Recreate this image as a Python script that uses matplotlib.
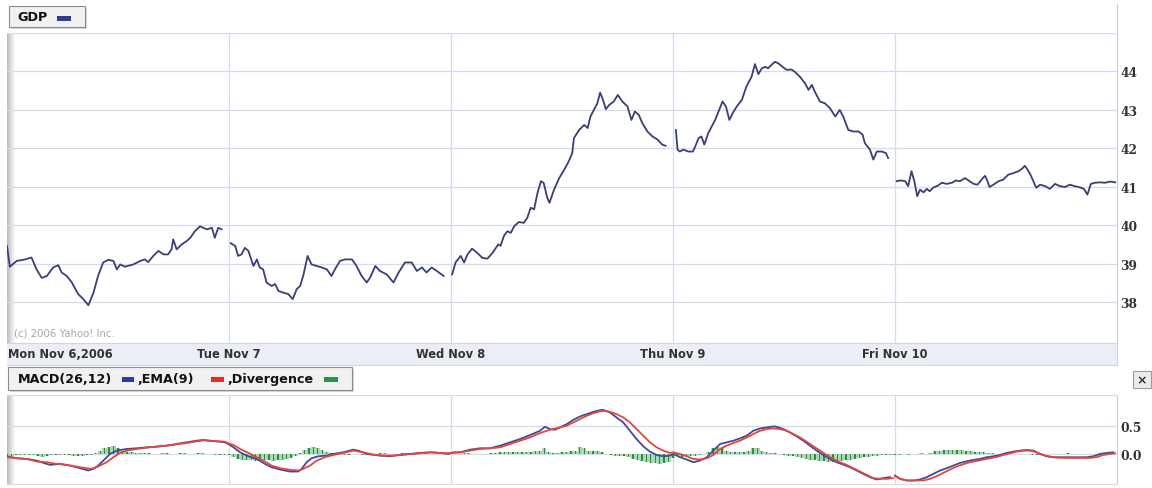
import numpy as np
import matplotlib
matplotlib.use('Agg')
import matplotlib.pyplot as plt
from matplotlib.patches import Rectangle, FancyBboxPatch
from matplotlib.lines import Line2D

# ---- price (GDP), minutes after the open for each trading day ----
day_labels = ['Mon Nov 6,2006', 'Tue Nov 7', 'Wed Nov 8', 'Thu Nov 9', 'Fri Nov 10']
price_ticks = [38, 39, 40, 41, 42, 43, 44, 45]
price_ticklabels = ['38', '39', '40', '41', '42', '43', '44', '']

mon_min = [0, 5, 17, 32, 43, 52, 61, 70, 81, 90, 96, 105, 114, 125, 134, 143, 152, 160, 169, 178,
           187, 193, 199, 207, 222, 234, 242, 248, 257, 266, 275, 283, 289, 292, 298, 307, 316, 322,
           330, 339, 351, 360, 365, 371, 377]
mon_px = [39.46, 38.92, 39.07, 39.11, 39.16, 38.85, 38.63, 38.68, 38.90, 38.96, 38.77, 38.68, 38.51,
          38.21, 38.08, 37.92, 38.25, 38.68, 39.03, 39.10, 39.07, 38.85, 38.98, 38.92, 38.98, 39.07,
          39.11, 39.04, 39.20, 39.33, 39.24, 39.24, 39.37, 39.63, 39.37, 39.50, 39.59, 39.67, 39.84,
          39.97, 39.89, 39.93, 39.67, 39.93, 39.89]

tue_min = [3, 11, 16, 22, 28, 34, 43, 49, 54, 60, 66, 75, 81, 87, 95, 104, 112, 119, 125, 131, 138,
           145, 154, 163, 172, 180, 186, 195, 204, 216, 224, 233, 242, 248, 257, 265, 277, 289, 298,
           309, 321, 330, 339, 347, 356, 365, 377]
tue_px = [39.53, 39.46, 39.20, 39.24, 39.41, 39.33, 38.94, 39.11, 38.90, 38.85, 38.51, 38.42, 38.47,
          38.29, 38.25, 38.21, 38.08, 38.34, 38.42, 38.72, 39.20, 38.98, 38.94, 38.90, 38.85, 38.68,
          38.85, 39.07, 39.11, 39.11, 38.94, 38.68, 38.51, 38.64, 38.94, 38.81, 38.72, 38.51, 38.77,
          39.03, 39.03, 38.81, 38.90, 38.77, 38.90, 38.81, 38.68]

wed_min = [2, 8, 17, 23, 29, 37, 46, 55, 64, 73, 78, 83, 87, 93, 99, 105, 111, 119, 128, 134, 140,
           146, 152, 158, 163, 169, 173, 181, 190, 199, 207, 213, 216, 225, 234, 240, 245, 251, 257,
           262, 267, 272, 278, 286, 293, 301, 310, 317, 323, 330, 336, 345, 354, 363, 371, 377]
wed_px = [38.72, 39.03, 39.20, 39.03, 39.24, 39.39, 39.28, 39.15, 39.13, 39.28, 39.39, 39.50, 39.46,
          39.72, 39.84, 39.80, 39.97, 40.08, 40.06, 40.19, 40.45, 40.41, 40.84, 41.14, 41.09, 40.71,
          40.58, 40.92, 41.22, 41.44, 41.66, 41.87, 42.26, 42.47, 42.60, 42.52, 42.82, 42.99, 43.16,
          43.44, 43.25, 43.01, 43.12, 43.21, 43.38, 43.21, 43.08, 42.73, 42.95, 42.86, 42.65, 42.43,
          42.30, 42.22, 42.09, 42.06]

thu_min = [5, 8, 12, 18, 27, 35, 39, 45, 50, 55, 62, 68, 74, 80, 87, 93, 99, 105, 112, 121, 129,
           138, 144, 150, 156, 162, 167, 173, 179, 185, 194, 200, 208, 214, 223, 232, 238, 244, 249,
           258, 267, 276, 285, 293, 299, 308, 317, 326, 333, 337, 346, 352, 358, 367, 374, 378]
thu_px = [42.47, 41.96, 41.91, 41.96, 41.91, 41.91, 42.04, 42.26, 42.30, 42.09, 42.39, 42.56, 42.73,
          42.95, 43.21, 43.08, 42.73, 42.91, 43.08, 43.25, 43.60, 43.85, 44.18, 43.92, 44.07, 44.11,
          44.07, 44.16, 44.24, 44.20, 44.09, 44.03, 44.04, 43.98, 43.85, 43.68, 43.51, 43.64, 43.47,
          43.21, 43.16, 43.03, 42.82, 42.99, 42.82, 42.47, 42.43, 42.43, 42.35, 42.13, 41.96, 41.70,
          41.91, 41.91, 41.87, 41.74]

fri_min = [3, 10, 18, 23, 29, 34, 39, 44, 50, 56, 61, 67, 76, 82, 91, 100, 107, 114, 123, 131, 138,
           145, 152, 158, 162, 166, 173, 182, 190, 199, 208, 217, 223, 228, 233, 238, 243, 248, 255,
           264, 272, 281, 290, 299, 307, 316, 325, 332, 338, 344, 351, 360, 369, 378, 387]
fri_px = [41.14, 41.16, 41.14, 41.01, 41.40, 41.14, 40.75, 40.92, 40.85, 40.94, 40.88, 40.97, 41.03,
          41.10, 41.07, 41.10, 41.16, 41.14, 41.22, 41.14, 41.07, 41.05, 41.18, 41.28, 41.16, 40.99,
          41.05, 41.14, 41.18, 41.31, 41.35, 41.40, 41.46, 41.54, 41.44, 41.31, 41.14, 40.97, 41.05,
          41.01, 40.94, 41.07, 41.01, 40.99, 41.05, 41.01, 40.98, 40.94, 40.79, 41.07, 41.10, 41.11,
          41.10, 41.13, 41.11]

# ---- MACD(26,12), time in trading days since Monday open ----
macd_ticks = [0.0, 0.5]
macd_ticklabels = ['0.0', '0.5']

macd_t_mon = [0.00, 0.044, 0.089, 0.134, 0.164, 0.194, 0.239, 0.284, 0.329, 0.366, 0.389, 0.411,
              0.434, 0.464, 0.494, 0.539, 0.584, 0.629, 0.674, 0.719, 0.764, 0.809, 0.854, 0.884,
              0.914, 0.959, 0.982]
macd_mon = [-0.041, -0.076, -0.088, -0.117, -0.158, -0.193, -0.175, -0.205, -0.251, -0.292, -0.263,
            -0.205, -0.117, 0.0, 0.059, 0.088, 0.100, 0.117, 0.129, 0.146, 0.175, 0.205, 0.234,
            0.246, 0.234, 0.216, 0.205]
macd_t_tue = [0.997, 1.020, 1.050, 1.087, 1.125, 1.162, 1.192, 1.230, 1.275, 1.312, 1.327, 1.350,
              1.372, 1.402, 1.440, 1.470, 1.515, 1.560, 1.583, 1.620, 1.680, 1.725, 1.770, 1.815,
              1.860, 1.905, 1.950, 1.988, 2.011]
macd_tue = [0.175, 0.117, 0.029, -0.041, -0.088, -0.175, -0.234, -0.275, -0.310, -0.310, -0.263,
            -0.146, -0.076, -0.041, -0.029, 0.0, 0.029, 0.076, 0.059, 0.0, -0.029, -0.041, -0.018,
            0.0, 0.018, 0.029, 0.018, 0.0, 0.029]
macd_t_wed = [2.041, 2.086, 2.131, 2.176, 2.221, 2.266, 2.311, 2.356, 2.401, 2.423, 2.446, 2.468,
              2.491, 2.521, 2.551, 2.581, 2.611, 2.641, 2.671, 2.686, 2.716, 2.746, 2.776, 2.806,
              2.836, 2.866, 2.896, 2.926, 2.956, 2.986]
macd_wed = [0.029, 0.076, 0.100, 0.100, 0.146, 0.205, 0.263, 0.333, 0.409, 0.480, 0.439, 0.427,
            0.468, 0.526, 0.602, 0.661, 0.702, 0.743, 0.772, 0.778, 0.731, 0.643, 0.556, 0.409,
            0.263, 0.135, 0.041, -0.018, -0.041, -0.029]
macd_t_thu = [3.002, 3.032, 3.062, 3.092, 3.122, 3.152, 3.182, 3.212, 3.242, 3.272, 3.302, 3.332,
              3.362, 3.392, 3.422, 3.452, 3.467, 3.497, 3.527, 3.557, 3.587, 3.617, 3.647, 3.677,
              3.707, 3.737, 3.767, 3.797, 3.827, 3.857, 3.887, 3.917, 3.947, 3.977]
macd_thu = [0.0, -0.058, -0.099, -0.146, -0.117, -0.058, 0.059, 0.175, 0.205, 0.234, 0.275, 0.322,
            0.409, 0.450, 0.468, 0.485, 0.480, 0.439, 0.380, 0.310, 0.234, 0.146, 0.059, -0.018,
            -0.088, -0.146, -0.187, -0.234, -0.292, -0.351, -0.409, -0.450, -0.427, -0.409]
macd_t_fri = [4.000, 4.023, 4.053, 4.083, 4.113, 4.143, 4.173, 4.203, 4.233, 4.263, 4.293, 4.323,
              4.353, 4.383, 4.413, 4.443, 4.473, 4.503, 4.533, 4.563, 4.593, 4.623, 4.653, 4.683,
              4.713, 4.743, 4.803, 4.863, 4.893, 4.923, 4.953, 4.983]
macd_fri = [-0.380, -0.439, -0.468, -0.468, -0.450, -0.409, -0.351, -0.292, -0.251, -0.205, -0.158,
            -0.129, -0.105, -0.088, -0.058, -0.041, -0.018, 0.018, 0.041, 0.059, 0.070, 0.059, 0.0,
            -0.041, -0.058, -0.058, -0.058, -0.058, -0.041, 0.0, 0.018, 0.029]

# ---- EMA(9) ----
ema_t_mon = [0.00, 0.044, 0.089, 0.134, 0.179, 0.224, 0.269, 0.329, 0.374, 0.396, 0.419, 0.449,
             0.479, 0.509, 0.539, 0.584, 0.629, 0.674, 0.719, 0.764, 0.809, 0.854, 0.884, 0.929, 0.982]
ema_mon = [-0.058, -0.076, -0.088, -0.134, -0.146, -0.175, -0.193, -0.234, -0.263, -0.246, -0.205,
           -0.146, -0.058, 0.018, 0.059, 0.088, 0.111, 0.129, 0.146, 0.170, 0.193, 0.222, 0.240,
           0.228, 0.216]
ema_t_tue = [0.997, 1.020, 1.050, 1.087, 1.125, 1.162, 1.192, 1.230, 1.275, 1.312, 1.335, 1.365,
             1.395, 1.432, 1.470, 1.515, 1.560, 1.605, 1.650, 1.695, 1.740, 1.785, 1.830, 1.875,
             1.920, 1.965, 2.011]
ema_tue = [0.187, 0.158, 0.088, 0.018, -0.058, -0.134, -0.205, -0.251, -0.281, -0.292, -0.263,
           -0.205, -0.117, -0.058, -0.018, 0.018, 0.059, 0.029, -0.012, -0.029, -0.029, -0.012, 0.0,
           0.018, 0.029, 0.012, 0.018]
ema_t_wed = [2.041, 2.086, 2.131, 2.176, 2.221, 2.266, 2.311, 2.356, 2.401, 2.446, 2.491, 2.521,
             2.551, 2.581, 2.611, 2.641, 2.671, 2.694, 2.716, 2.746, 2.776, 2.806, 2.836, 2.866,
             2.896, 2.926, 2.956, 2.986]
ema_wed = [0.029, 0.059, 0.088, 0.100, 0.117, 0.175, 0.234, 0.292, 0.368, 0.427, 0.468, 0.497,
           0.556, 0.614, 0.673, 0.719, 0.754, 0.760, 0.743, 0.702, 0.643, 0.556, 0.439, 0.322,
           0.205, 0.117, 0.059, 0.018]
ema_t_thu = [3.002, 3.032, 3.062, 3.092, 3.122, 3.152, 3.182, 3.212, 3.242, 3.272, 3.302, 3.332,
             3.362, 3.392, 3.422, 3.452, 3.482, 3.512, 3.542, 3.572, 3.602, 3.632, 3.662, 3.692,
             3.722, 3.752, 3.782, 3.812, 3.842, 3.872, 3.902, 3.932, 3.962, 3.992]
ema_thu = [0.029, 0.0, -0.041, -0.088, -0.099, -0.076, -0.018, 0.088, 0.146, 0.193, 0.234, 0.292,
           0.351, 0.409, 0.439, 0.450, 0.439, 0.409, 0.351, 0.292, 0.216, 0.135, 0.059, -0.018,
           -0.088, -0.146, -0.193, -0.251, -0.310, -0.368, -0.427, -0.439, -0.439, -0.427]
ema_t_fri = [4.000, 4.023, 4.053, 4.083, 4.128, 4.158, 4.188, 4.218, 4.248, 4.278, 4.308, 4.338,
             4.368, 4.398, 4.428, 4.458, 4.488, 4.518, 4.548, 4.578, 4.608, 4.638, 4.668, 4.698,
             4.728, 4.773, 4.833, 4.878, 4.908, 4.938, 4.968, 4.991]
ema_fri = [-0.392, -0.439, -0.468, -0.468, -0.468, -0.439, -0.392, -0.333, -0.275, -0.222, -0.181,
           -0.146, -0.123, -0.099, -0.076, -0.053, -0.018, 0.012, 0.041, 0.059, 0.059, 0.029,
           -0.018, -0.047, -0.064, -0.070, -0.070, -0.070, -0.058, -0.018, 0.0, 0.012]

# ---- Divergence, one reading every 0.02 day ----
div_mon = [-0.03, -0.03, -0.02, -0.01, -0.01, -0.01, -0.02, -0.03, -0.06, -0.04,
           -0.02, -0.02, -0.01, -0.01, -0.02, -0.03, -0.03, -0.03, -0.02, -0.01,
           0.02, 0.06, 0.10, 0.13, 0.14, 0.10, 0.06, 0.04, 0.03, 0.02,
           0.01, 0.01, 0.01, 0.0, 0.0, 0.01, 0.01, 0.0, 0.0, 0.01,
           0.01, 0.0, 0.0, 0.01, 0.01, 0.0, 0.0, -0.01, -0.01, -0.01]
div_tue = [-0.02, -0.06, -0.09, -0.10, -0.11, -0.11, -0.12, -0.11, -0.10, -0.11,
           -0.12, -0.11, -0.10, -0.09, -0.07, -0.04, 0.02, 0.07, 0.11, 0.12,
           0.10, 0.07, 0.03, 0.01, 0.01, 0.0, -0.01, -0.01, 0.0, 0.0,
           -0.01, -0.01, 0.0, 0.0, 0.01, 0.01, 0.0, 0.0, 0.0, 0.01,
           0.01, 0.0, 0.0, 0.0, 0.01, 0.0, 0.0, 0.0, 0.01, 0.0]
div_wed = [0.0, 0.0, 0.0, 0.01, 0.01, 0.0, 0.0, 0.0, 0.0, 0.01,
           0.02, 0.03, 0.03, 0.03, 0.03, 0.03, 0.04, 0.04, 0.04, 0.05,
           0.06, 0.10, 0.04, 0.02, 0.02, 0.03, 0.04, 0.05, 0.06, 0.12,
           0.10, 0.06, 0.06, 0.05, 0.04, 0.0, -0.02, -0.03, -0.03, -0.04,
           -0.06, -0.09, -0.11, -0.13, -0.15, -0.16, -0.16, -0.17, -0.16, -0.14]
div_thu = [-0.08, -0.04, -0.05, -0.05, -0.04, -0.03, -0.02, 0.0, 0.04, 0.10,
           0.12, 0.10, 0.06, 0.04, 0.03, 0.03, 0.04, 0.06, 0.11, 0.10,
           0.05, 0.03, 0.02, 0.01, 0.0, -0.02, -0.03, -0.04, -0.05, -0.07,
           -0.09, -0.10, -0.11, -0.12, -0.13, -0.14, -0.14, -0.13, -0.12, -0.11,
           -0.10, -0.09, -0.07, -0.06, -0.05, -0.04, -0.03, -0.02, -0.02, -0.01]
div_fri = [-0.01, -0.01, 0.0, -0.01, 0.0, 0.0, 0.01, 0.0, 0.02, 0.05,
           0.06, 0.07, 0.07, 0.07, 0.07, 0.07, 0.06, 0.05, 0.04, 0.04,
           0.03, 0.02, 0.01, 0.0, 0.0, 0.0, 0.0, 0.0, 0.0, 0.0,
           0.0, -0.01, -0.01, 0.0, 0.0, 0.0, 0.0, 0.0, 0.0, 0.01,
           0.0, 0.0, 0.0, 0.0, 0.0, 0.0, 0.0, 0.01, 0.01, 0.0]

# colours
price_c = '#3a3f78'
macd_c = '#3b4c9f'
ema_c = '#e5453a'
div_c = '#2a8f45'
grid_c = '#d6dbec'
spine_c = '#c6cbe0'
label_c = '#333333'

W, H = 1152, 489


def fx(x):
    return x / W


def fy(y):
    return 1 - y / H


fig = plt.figure(figsize=(W / 100, H / 100), dpi=100)
fig.patch.set_facecolor('white')


def style_panel(a, yticks, ylabels):
    a.set_xlim(0, 5)
    a.set_xticks([1, 2, 3, 4])
    a.set_yticks(yticks)
    a.set_yticklabels(ylabels)
    a.yaxis.tick_right()
    a.tick_params(axis='x', length=0, labelbottom=False)
    a.tick_params(axis='y', length=0, pad=2.5, labelsize=8.8, labelcolor=label_c)
    for lab in a.get_yticklabels():
        lab.set_fontfamily('DejaVu Serif')
        lab.set_fontweight('bold')
    a.grid(True, color=grid_c, lw=0.9)
    a.set_axisbelow(True)
    for s in ['top', 'left', 'bottom']:
        a.spines[s].set_visible(False)
    a.spines['right'].set_color(spine_c)
    # grey shadow strip on the left edge
    for i, shade in enumerate(['#bdbdbd', '#c6c6c6', '#cfcfcf', '#d9d9d9', '#e2e2e2', '#eaeaea', '#f1f1f1', '#f7f7f7']):
        a.add_patch(Rectangle((i / 1110, 0), 1.2 / 1110, 1, transform=a.transAxes,
                              color=shade, lw=0, zorder=0.5))


# ---- price panel ----
ax = fig.add_axes([fx(7), fy(344), fx(1117) - fx(7), fy(33.5) - fy(344)])
day_min = [mon_min, tue_min, wed_min, thu_min, fri_min]
day_px = [mon_px, tue_px, wed_px, thu_px, fri_px]
for d in range(5):
    ax.plot(d + np.array(day_min[d]) / 390.0, day_px[d], color=price_c, lw=1.3, zorder=3)
ax.set_ylim(36.94, 44.97)
style_panel(ax, price_ticks, price_ticklabels)
fig.add_artist(Line2D([fx(1117), fx(1117)], [fy(5), fy(34)], color=spine_c, lw=0.8))

fig.text(fx(14), fy(334), '(c) 2006 Yahoo! Inc.', fontsize=7.3, color='#a6a6a6', va='center')

# ---- date band ----
band = fig.add_axes([fx(7), fy(366), fx(1117) - fx(7), fy(344) - fy(366)])
band.set_facecolor('#eceef5')
band.set_xlim(0, 5)
band.set_ylim(0, 1)
band.set_xticks([])
band.set_yticks([])
band.spines['left'].set_visible(False)
for s in ['top', 'bottom', 'right']:
    band.spines[s].set_color('#d0d4e4')
band.text(0.003, 0.5, day_labels[0], ha='left', va='center', fontsize=8.3,
          fontweight='bold', color=label_c)
for d in range(1, 5):
    band.text(d, 0.5, day_labels[d], ha='center', va='center', fontsize=8.3,
              fontweight='bold', color=label_c)

# ---- MACD panel ----
mx = fig.add_axes([fx(7), fy(485), fx(1117) - fx(7), fy(396) - fy(485)])
div_all = div_mon + div_tue + div_wed + div_thu + div_fri
div_t = np.arange(len(div_all)) * 0.02
mx.bar(div_t, div_all, width=0.02, color='#a9d8b3', lw=0, zorder=2)
mx.bar(div_t, div_all, width=0.006, color=div_c, lw=0, zorder=2.2)
mx.plot(macd_t_mon + macd_t_tue + macd_t_wed + macd_t_thu, macd_mon + macd_tue + macd_wed + macd_thu,
        color=macd_c, lw=1.3, zorder=3)
mx.plot(macd_t_fri, macd_fri, color=macd_c, lw=1.3, zorder=3)
mx.plot(ema_t_mon + ema_t_tue + ema_t_wed + ema_t_thu, ema_mon + ema_tue + ema_wed + ema_thu,
        color=ema_c, lw=1.3, zorder=3.1)
mx.plot(ema_t_fri, ema_fri, color=ema_c, lw=1.3, zorder=3.1)
mx.set_ylim(-0.53, 1.04)
style_panel(mx, macd_ticks, macd_ticklabels)
mx.spines['top'].set_visible(True)
mx.spines['top'].set_color(grid_c)
mx.spines['bottom'].set_visible(True)
mx.spines['bottom'].set_color(grid_c)


# ---- legend boxes ----
def legend_box(x0, y0, x1, y1):
    fig.add_artist(FancyBboxPatch((fx(x0 + 1.5), fy(y1 + 1.5)), fx(x1) - fx(x0), fy(y0) - fy(y1),
                                  boxstyle='square,pad=0', transform=fig.transFigure,
                                  facecolor='#d8d8d8', edgecolor='none'))
    fig.add_artist(FancyBboxPatch((fx(x0), fy(y1)), fx(x1) - fx(x0), fy(y0) - fy(y1),
                                  boxstyle='square,pad=0', transform=fig.transFigure,
                                  facecolor='#f1f1f1', edgecolor='#8c8c8c', lw=0.8))


def swatch(x0, x1, yc, color):
    fig.add_artist(Rectangle((fx(x0), fy(yc + 2.5)), fx(x1) - fx(x0), fy(yc - 2.5) - fy(yc + 2.5),
                             transform=fig.transFigure, facecolor=color, edgecolor='none'))


legend_box(9, 7, 85, 28)
fig.text(fx(17), fy(17.5), 'GDP', fontsize=9.2, fontweight='bold', color='#111111', va='center')
swatch(57, 71, 19, '#2c3c98')

legend_box(8, 368, 352, 391)
fig.text(fx(18), fy(379.5), 'MACD(26,12)', fontsize=9.2, fontweight='bold', color='#111111', va='center')
swatch(122, 134, 380.5, '#2c3c98')
fig.text(fx(137), fy(379.5), ',EMA(9)', fontsize=9.2, fontweight='bold', color='#111111', va='center')
swatch(211, 224, 380.5, '#e0302a')
fig.text(fx(227), fy(379.5), ',Divergence', fontsize=9.2, fontweight='bold', color='#111111', va='center')
swatch(324, 338, 380.5, '#2f8f4e')

# close button
fig.add_artist(FancyBboxPatch((fx(1133), fy(389)), fx(1151) - fx(1133), fy(372) - fy(389),
                              boxstyle='square,pad=0', transform=fig.transFigure,
                              facecolor='#ececec', edgecolor='#9a9a9a', lw=0.8))
fig.text(fx(1142), fy(380.5), '\u00d7', fontsize=9, fontweight='bold', color='#333333',
         ha='center', va='center')

fig.savefig('out.png', dpi=100)
